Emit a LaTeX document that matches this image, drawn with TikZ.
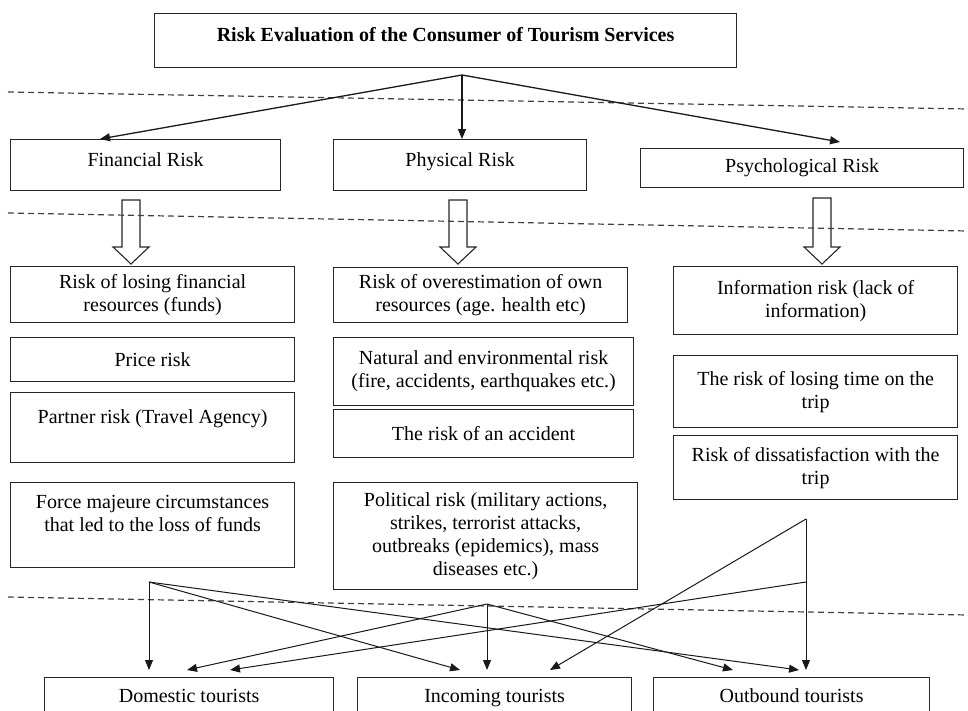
\documentclass[tikz,border=0pt]{standalone}
\usepackage{fontspec}
\setmainfont{Liberation Serif}
\usetikzlibrary{arrows.meta}

\begin{document}
\begin{tikzpicture}[x=1pt,y=-1pt,
  every node/.style={font=\fontsize{20}{23}\selectfont},
  box/.style={draw=black!85,line width=1.2pt,anchor=north west,align=center,inner sep=2pt},
  upper/.style={text height=14pt,text depth=12pt},
  even/.style={text height=14pt,text depth=5pt},
  arr/.style={draw=black!90,line width=1.3pt,-{Triangle[length=10pt,width=8pt]}},
  thinarr/.style={draw=black!90,line width=1pt,-{Triangle[length=10pt,width=8pt]}},
  sep/.style={draw=black!75,line width=1.2pt,dash pattern=on 6pt off 4pt}]
\useasboundingbox (0,0) rectangle (968,710);
\clip (0,0) rectangle (968,710);
%
\node[box,upper,minimum width=582pt,minimum height=54pt] (title) at (154,13) {\bfseries Risk Evaluation of the Consumer of Tourism Services};
\node[box,upper,minimum width=270pt,minimum height=51pt] (fin) at (10,139) {Financial Risk};
\node[box,upper,minimum width=253pt,minimum height=51pt] (phys) at (333,139) {Physical Risk};
\node[box,even,minimum width=323pt,minimum height=39pt] (psy) at (640,148) {Psychological Risk};
%
\node[box,minimum width=284pt,minimum height=56pt] (fin1) at (10,266) {Risk of losing financial\\resources (funds)};
\node[box,minimum width=284pt,minimum height=44pt] (fin2) at (10,337) {Price risk};
\node[box,minimum width=284pt,minimum height=70pt] (fin3) at (10,392) {Partner risk (Travel Agency)\\\mbox{}};
\node[box,minimum width=284pt,minimum height=85pt] (fin4) at (10,482) {Force majeure circumstances\\that led to the loss of funds\\\mbox{}};
%
\node[box,minimum width=294pt,minimum height=55pt] (phys1) at (333,267) {Risk of overestimation of own\\resources (age. health etc)};
\node[box,minimum width=300pt,minimum height=68pt] (phys2) at (333,337) {Natural and environmental risk\\(fire, accidents, earthquakes etc.)};
\node[box,minimum width=300pt,minimum height=48pt] (phys3) at (333,409) {The risk of an accident};
\node[box,minimum width=304pt,minimum height=107pt] (phys4) at (333,482) {Political risk (military actions,\\strikes, terrorist attacks,\\outbreaks (epidemics), mass\\diseases etc.)};
%
\node[box,minimum width=284pt,minimum height=68pt] (psy1) at (673,266) {Information risk (lack of\\information)};
\node[box,minimum width=284pt,minimum height=72pt] (psy2) at (673,355) {The risk of losing time on the\\trip};
\node[box,minimum width=284pt,minimum height=64pt] (psy3) at (673,435) {Risk of dissatisfaction with the\\trip};
%
\node[box,even,minimum width=289pt,minimum height=40pt] (dom) at (44,677) {Domestic tourists};
\node[box,even,minimum width=274pt,minimum height=40pt] (inc) at (357,677) {Incoming tourists};
\node[box,even,minimum width=276pt,minimum height=40pt] (outb) at (653,677) {Outbound tourists};
%
\foreach \x/\t in {131/200,458/200,822/198}
  \draw[draw=black!85,line width=1.1pt,fill=white] ({\x-9},\t) -- ({\x+9},\t) -- ({\x+9},247) -- ({\x+18},247)
    -- (\x,264) -- ({\x-18},247) -- ({\x-9},247) -- cycle;
%
\draw[sep] (8,92) -- (968,109);
\draw[sep] (8,213) -- (968,231);
\draw[sep] (8,597) -- (968,615);
%
\coordinate (fork) at (462,75);
\coordinate (finTip) at (100,139);
\coordinate (psyTip) at (840,142);
\draw[arr] (fork) -- (finTip);
\draw[arr] (fork) -- (fork |- phys.north);
\draw[arr] (fork) -- (psyTip);
%
\coordinate (A) at (149,582);
\coordinate (B) at (487,604);
\coordinate (C) at (806,582);
\coordinate (D) at (806,519);
\foreach \n/\x in {d1/149,d2/187,d3/230,i1/460,i2/487,i3/550,o1/733,o2/799,o3/806}
  \coordinate (\n) at (\x,670);
\foreach \s/\e in {A/d1,A/i1,A/o2,B/d2,B/i2,B/o1,C/d3,D/i3,D/o3}
  \draw[thinarr] (\s) -- (\e);
%
\end{tikzpicture}
\end{document}
